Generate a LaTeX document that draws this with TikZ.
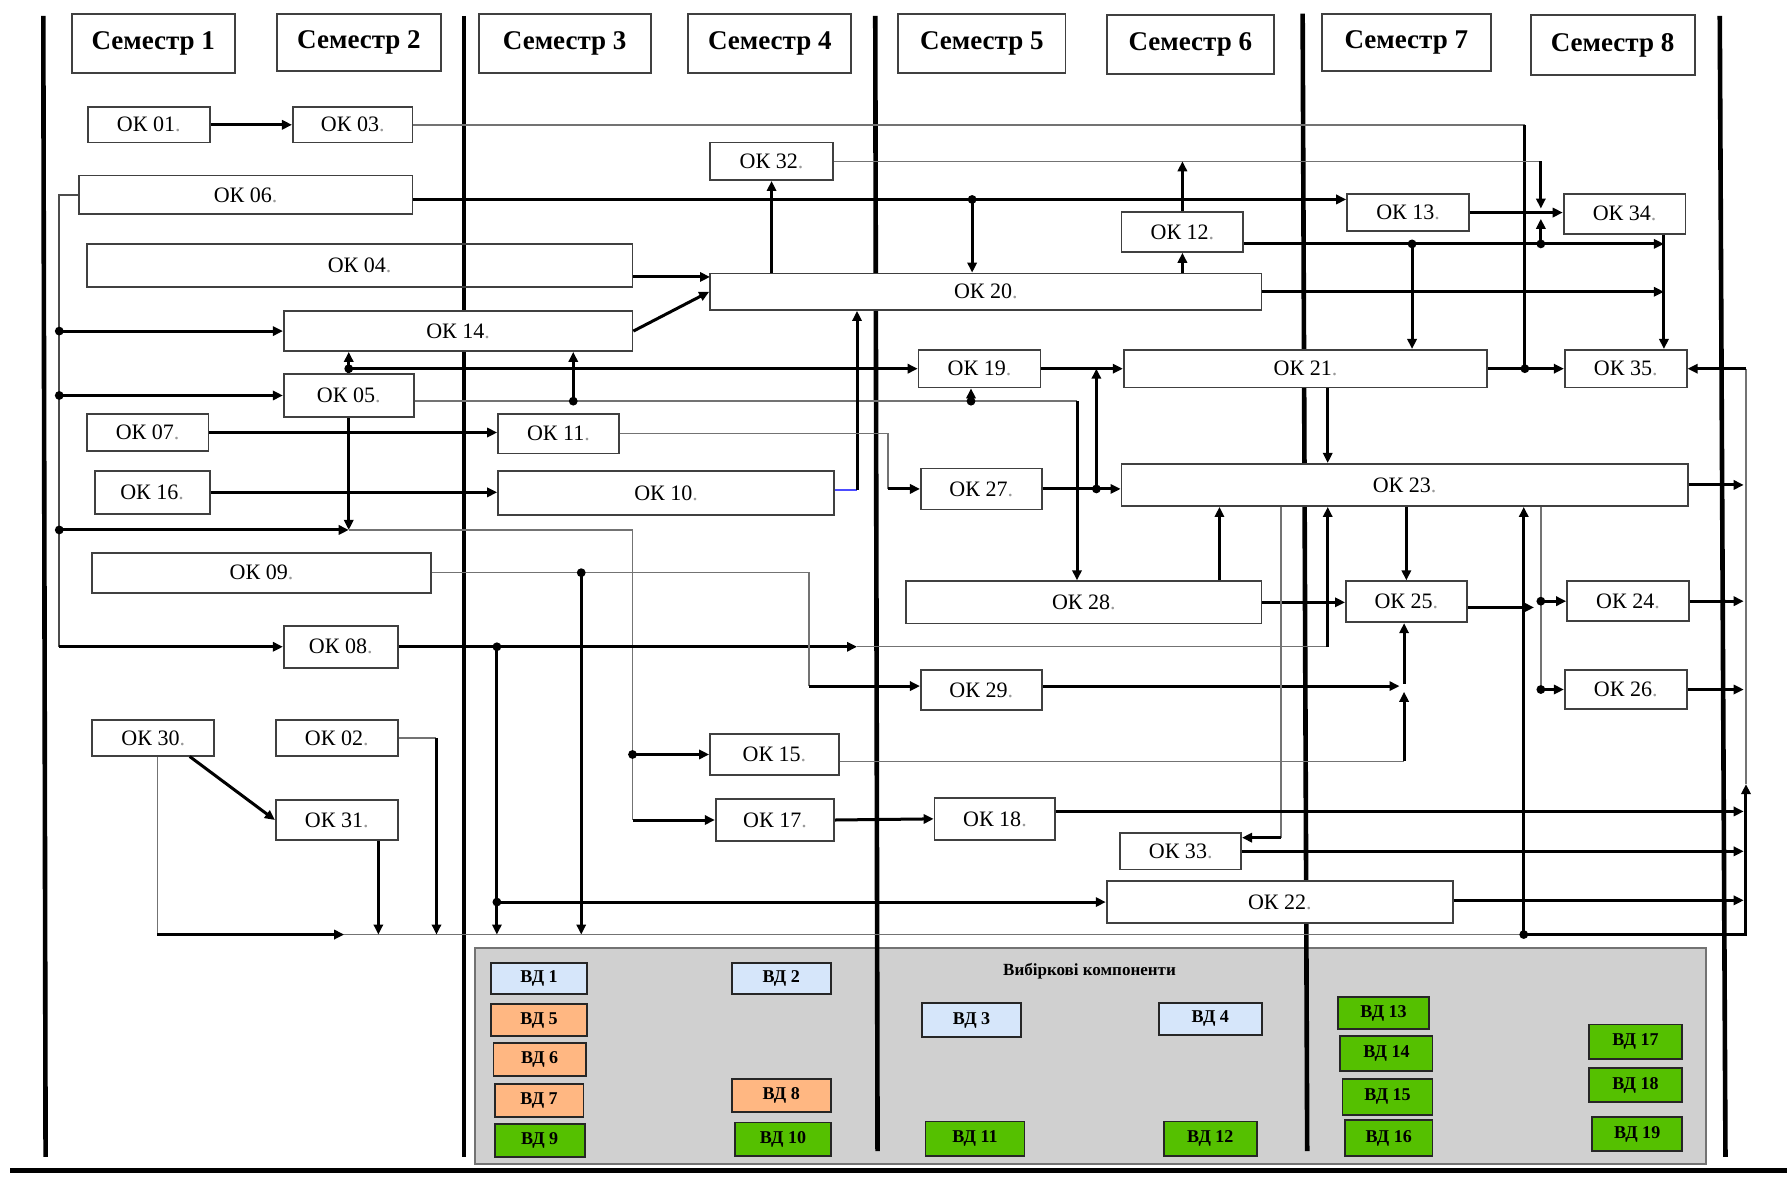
\documentclass[tikz,border=0pt]{standalone}
\usepackage{fontspec}
\setmainfont{Liberation Serif}
\usetikzlibrary{arrows.meta}
\definecolor{vd blue}{RGB}{214,230,250}
\definecolor{vd orange}{RGB}{255,183,130}
\definecolor{vd green}{RGB}{85,192,0}
\definecolor{panel grey}{RGB}{208,208,208}
\newcommand{\oklabel}[1]{ОК #1\textcolor{black!40}{.}}

\begin{document}
\begin{tikzpicture}[
	x=0.02cm, y=-0.02cm,
	sem box/.style={draw=black!75, line width=0.9pt, inner sep=0pt, font=\fontsize{13.5}{15}\selectfont\bfseries},
	ok box/.style={draw=black!75, line width=0.9pt, fill=white, inner sep=0pt, font=\fontsize{11}{12}\selectfont},
	vd box/.style={draw=black!85, line width=0.9pt, inner sep=0pt, font=\fontsize{9}{10}\selectfont\bfseries},
	sem line/.style={line width=2.3pt},
	bar/.style={line width=1.5pt},
	link/.style={line width=1.5pt, -{Triangle[length=5pt,width=4.6pt]}},
	faint/.style={line width=0.7pt, black!55},
]
	\useasboundingbox (0,0) rectangle (1568,1032);

	% elective panel
	\node[draw=black!55, line width=0.9pt, fill=panel grey, minimum width=21.6cm, minimum height=3.78cm] (panel) at (957,926.5) {};
	\node[font=\fontsize{8.5}{10}\selectfont\bfseries] (panel title) at (956,852) {Вибіркові компоненти};

	% semester borders
	\draw[sem line] (38,14) -- (40,1015);
	\draw[sem line] (407,14) -- (407,1015);
	\draw[sem line] (768,14) -- (770,1010);
	\draw[sem line] (1143,12) -- (1147,1010);
	\draw[sem line] (1509,14) -- (1514,1015);
	\draw[line width=0.1cm] (9,1027) -- (1568,1027);

	% semesters
	\node[sem box, minimum width=2.86cm, minimum height=1.04cm] (sem1) at (134.5,38) {Семестр 1};
	\node[sem box, minimum width=2.88cm, minimum height=1.00cm] (sem2) at (315,37) {Семестр 2};
	\node[sem box, minimum width=3.02cm, minimum height=1.04cm] (sem3) at (495.5,38) {Семестр 3};
	\node[sem box, minimum width=2.86cm, minimum height=1.04cm] (sem4) at (675.5,38) {Семестр 4};
	\node[sem box, minimum width=2.94cm, minimum height=1.04cm] (sem5) at (861.5,38) {Семестр 5};
	\node[sem box, minimum width=2.94cm, minimum height=1.04cm] (sem6) at (1044.5,39) {Семестр 6};
	\node[sem box, minimum width=2.96cm, minimum height=1.00cm] (sem7) at (1234,37) {Семестр 7};
	\node[sem box, minimum width=2.88cm, minimum height=1.06cm] (sem8) at (1415,39.5) {Семестр 8};

	% compulsory components
	\node[ok box, minimum width=2.14cm, minimum height=0.62cm] (ok01) at (130.5,109.5) {\oklabel{01}};
	\node[ok box, minimum width=2.10cm, minimum height=0.62cm] (ok03) at (309.5,109.5) {\oklabel{03}};
	\node[ok box, minimum width=2.16cm, minimum height=0.66cm] (ok32) at (677,141.5) {\oklabel{32}};
	\node[ok box, minimum width=5.86cm, minimum height=0.68cm] (ok06) at (215.5,171) {\oklabel{06}};
	\node[ok box, minimum width=2.14cm, minimum height=0.66cm] (ok13) at (1235.5,186.5) {\oklabel{13}};
	\node[ok box, minimum width=2.14cm, minimum height=0.70cm] (ok34) at (1425.5,187.5) {\oklabel{34}};
	\node[ok box, minimum width=2.14cm, minimum height=0.70cm] (ok12) at (1037.5,203.5) {\oklabel{12}};
	\node[ok box, fill=none, minimum width=9.58cm, minimum height=0.76cm] (ok04) at (315.5,233) {\oklabel{04}};
	\node[ok box, minimum width=9.68cm, minimum height=0.64cm] (ok20) at (865,256) {\oklabel{20}};
	\node[ok box, minimum width=6.12cm, minimum height=0.70cm] (ok14) at (402,290.5) {\oklabel{14}};
	\node[ok box, minimum width=2.14cm, minimum height=0.66cm] (ok19) at (859.5,323.5) {\oklabel{19}};
	\node[ok box, minimum width=6.38cm, minimum height=0.66cm] (ok21) at (1145.5,323.5) {\oklabel{21}};
	\node[ok box, minimum width=2.14cm, minimum height=0.66cm] (ok35) at (1426.5,323.5) {\oklabel{35}};
	\node[ok box, minimum width=2.28cm, minimum height=0.76cm] (ok05) at (306,347) {\oklabel{05}};
	\node[ok box, minimum width=2.14cm, minimum height=0.66cm] (ok07) at (129.5,379.5) {\oklabel{07}};
	\node[ok box, minimum width=2.12cm, minimum height=0.70cm] (ok11) at (490,380.5) {\oklabel{11}};
	\node[ok box, minimum width=2.02cm, minimum height=0.76cm] (ok16) at (133.5,432) {\oklabel{16}};
	\node[ok box, minimum width=5.90cm, minimum height=0.78cm] (ok10) at (584.5,432.5) {\oklabel{10}};
	\node[ok box, minimum width=2.12cm, minimum height=0.72cm] (ok27) at (861,429) {\oklabel{27}};
	\node[ok box, minimum width=9.94cm, minimum height=0.74cm] (ok23) at (1232.5,425.5) {\oklabel{23}};
	\node[ok box, minimum width=5.94cm, minimum height=0.70cm] (ok09) at (229.5,502.5) {\oklabel{09}};
	\node[ok box, minimum width=6.24cm, minimum height=0.74cm] (ok28) at (951,528.5) {\oklabel{28}};
	\node[ok box, minimum width=2.12cm, minimum height=0.72cm] (ok25) at (1234,528) {\oklabel{25}};
	\node[ok box, minimum width=2.14cm, minimum height=0.70cm] (ok24) at (1428.5,527.5) {\oklabel{24}};
	\node[ok box, minimum width=2.00cm, minimum height=0.74cm] (ok08) at (299,567.5) {\oklabel{08}};
	\node[ok box, minimum width=2.12cm, minimum height=0.70cm] (ok29) at (861,605.5) {\oklabel{29}};
	\node[ok box, minimum width=2.14cm, minimum height=0.68cm] (ok26) at (1426.5,605) {\oklabel{26}};
	\node[ok box, minimum width=2.14cm, minimum height=0.62cm] (ok30) at (134.5,647.5) {\oklabel{30}};
	\node[ok box, minimum width=2.14cm, minimum height=0.62cm] (ok02) at (295.5,647.5) {\oklabel{02}};
	\node[ok box, minimum width=2.26cm, minimum height=0.72cm] (ok15) at (679.5,662) {\oklabel{15}};
	\node[ok box, minimum width=2.14cm, minimum height=0.70cm] (ok31) at (295.5,719.5) {\oklabel{31}};
	\node[ok box, minimum width=2.08cm, minimum height=0.74cm] (ok17) at (680,719.5) {\oklabel{17}};
	\node[ok box, minimum width=2.12cm, minimum height=0.74cm] (ok18) at (873,718.5) {\oklabel{18}};
	\node[ok box, minimum width=2.12cm, minimum height=0.64cm] (ok33) at (1036,747) {\oklabel{33}};
	\node[ok box, minimum width=6.08cm, minimum height=0.74cm] (ok22) at (1123,791.5) {\oklabel{22}};

	% electives
	\node[vd box, fill=vd blue, minimum width=1.68cm, minimum height=0.54cm] (vd1) at (473,858.5) {ВД 1};
	\node[vd box, fill=vd blue, minimum width=1.74cm, minimum height=0.54cm] (vd2) at (685.5,858.5) {ВД 2};
	\node[vd box, fill=vd orange, minimum width=1.68cm, minimum height=0.56cm] (vd5) at (473,895) {ВД 5};
	\node[vd box, fill=vd orange, minimum width=1.62cm, minimum height=0.58cm] (vd6) at (473.5,929.5) {ВД 6};
	\node[vd box, fill=vd orange, minimum width=1.56cm, minimum height=0.58cm] (vd7) at (473,965.5) {ВД 7};
	\node[vd box, fill=vd orange, minimum width=1.74cm, minimum height=0.58cm] (vd8) at (685.5,961.5) {ВД 8};
	\node[vd box, fill=vd green, minimum width=1.58cm, minimum height=0.58cm] (vd9) at (473.5,1000.5) {ВД 9};
	\node[vd box, fill=vd green, minimum width=1.68cm, minimum height=0.58cm] (vd10) at (687,999.5) {ВД 10};
	\node[vd box, fill=vd blue, minimum width=1.74cm, minimum height=0.60cm] (vd3) at (852.5,895) {ВД 3};
	\node[vd box, fill=vd blue, minimum width=1.80cm, minimum height=0.56cm] (vd4) at (1062,894) {ВД 4};
	\node[vd box, fill=vd green, minimum width=1.74cm, minimum height=0.60cm] (vd11) at (855.5,999) {ВД 11};
	\node[vd box, fill=vd green, minimum width=1.64cm, minimum height=0.60cm] (vd12) at (1062,999) {ВД 12};
	\node[vd box, fill=vd green, minimum width=1.60cm, minimum height=0.56cm] (vd13) at (1214,889) {ВД 13};
	\node[vd box, fill=vd green, minimum width=1.62cm, minimum height=0.62cm] (vd14) at (1216.5,924.5) {ВД 14};
	\node[vd box, fill=vd green, minimum width=1.58cm, minimum height=0.62cm] (vd15) at (1217.5,962.5) {ВД 15};
	\node[vd box, fill=vd green, minimum width=1.54cm, minimum height=0.62cm] (vd16) at (1218.5,998.5) {ВД 16};
	\node[vd box, fill=vd green, minimum width=1.64cm, minimum height=0.60cm] (vd17) at (1435,914) {ВД 17};
	\node[vd box, fill=vd green, minimum width=1.64cm, minimum height=0.60cm] (vd18) at (1435,952) {ВД 18};
	\node[vd box, fill=vd green, minimum width=1.58cm, minimum height=0.60cm] (vd19) at (1436.5,995) {ВД 19};

	% junctions
	\coordinate (lb14) at (52,290.5);
	\coordinate (lb05) at (52,347);
	\coordinate (lb465) at (52,465);
	\coordinate (lb08) at (52,567.5);
	\coordinate (c465) at (306,465);
	\coordinate (k465) at (555,465);
	\coordinate (j15) at (555,662);
	\coordinate (j17) at (555,719.5);
	\coordinate (j324) at (306,323.5);
	\coordinate (j503) at (503,352);
	\coordinate (j852) at (852,352);
	\coordinate (k945) at (945,352);
	\coordinate (in20) at (623,243);
	\coordinate (j853) at (853,175);
	\coordinate (k752) at (752,430);
	\coordinate (k779) at (779,429);
	\coordinate (j962) at (962,429);
	\coordinate (k1338) at (1338,109.5);
	\coordinate (j1338) at (1338,323.5);
	\coordinate (k1352) at (1352,141.5);
	\coordinate (m1352a) at (1352,183);
	\coordinate (m1352b) at (1352,192);
	\coordinate (j1352) at (1352,214);
	\coordinate (j1239) at (1239,214);
	\coordinate (a1460) at (1460,214);
	\coordinate (b1460) at (1460,256);
	\coordinate (k752b) at (752,567.5);
	\coordinate (j436) at (436,567.5);
	\coordinate (j1165) at (1165,567.5);
	\coordinate (j789) at (436,791.5);
	\coordinate (b436) at (436,820);
	\coordinate (j510) at (510,502.5);
	\coordinate (b510) at (510,820);
	\coordinate (k710) at (710,602);
	\coordinate (a1228) at (1228,602);
	\coordinate (k1232) at (1232,668);
	\coordinate (m1232) at (1232,607);
	\coordinate (j1232) at (1232,600);
	\coordinate (x1070) at (1070,510);
	\coordinate (a1346) at (1346,533);
	\coordinate (j24) at (1352,527.5);
	\coordinate (j26) at (1352,605);
	\coordinate (k1124) at (1124,735);
	\coordinate (j1337) at (1337,820);
	\coordinate (rbtop) at (1532,323.5);
	\coordinate (rbup) at (1532,688);
	\coordinate (rbbot) at (1532,820);
	\coordinate (rb) at (1530,0);
	\coordinate (r18) at (1530,712);
	\coordinate (r22) at (1530,790);
	\coordinate (b138) at (138,820);
	\coordinate (b302) at (302,820);
	\coordinate (b332) at (332,820);
	\coordinate (k383) at (383,647.5);
	\coordinate (b383) at (383,820);

	% left bus
	\draw[faint, line width=0.9pt, black!70] (ok06.west) -| (lb08);
	\draw[link] (lb14) -- (ok14.west);
	\draw[link] (lb05) -- (ok05.west);
	\draw[link] (lb465) -- (c465);
	\draw[link] (lb08) -- (ok08.west);
	\draw[link] (ok05.south) -- (c465);
	\draw[faint] (c465) -- (k465) -- (j17);
	\draw[link] (j15) -- (ok15.west);
	\draw[link] (j17) -- (ok17.west);

	% OK 05 upwards
	\draw[bar] (ok05.north) -- (j324);
	\draw[link] (j324) -- (j324 |- ok14.south);
	\draw[link] (j324) -- (ok19.west);
	\draw[faint] (ok05.east |- j503) -- (k945);
	\draw[link] (k945) -- (k945 |- ok28.north);
	\draw[link] (j503) -- (j503 |- ok14.south);
	\draw[link] (j852) -- (j852 |- ok19.south);

	% into OK 20
	\draw[link] (ok04.east |- in20) -- (in20);
	\draw[link] (ok14.east) -- (ok20.west);
	\draw[link] (ok20.north -| ok32.south) -- (ok32.south);
	\draw[link] (ok06.east |- j853) -- (j853 -| ok13.west);
	\draw[link] (j853) -- (j853 |- ok20.north);
	\draw[faint, blue!70] (ok10.east |- k752) -- (k752);
	\draw[link] (k752) -- (k752 |- ok20.south);

	% top rows
	\draw[link] (ok01.east) -- (ok03.west);
	\draw[faint] (ok03.east) -- (k1338);
	\draw[bar] (k1338) -- (j1338);
	\draw[faint] (ok32.east) -- (k1352);
	\draw[link] (k1352) -- (m1352a);
	\draw[link] (j1352) -- (m1352b);
	\draw[link] (ok12.north) -- (ok12.north |- k1352);
	\draw[link] (ok20.north -| ok12.south) -- (ok12.south);
	\draw[link] (ok12.east |- a1460) -- (a1460);
	\draw[link] (ok20.east) -- (b1460);
	\draw[link] (ok34.south -| a1460) -- (ok35.north -| a1460);
	\draw[link] (ok13.east) -- (ok13.east -| ok34.west);
	\draw[link] (j1239) -- (j1239 |- ok21.north);

	% middle rows
	\draw[link] (ok07.east) -- (ok07.east -| ok11.west);
	\draw[link] (ok16.east) -- (ok16.east -| ok10.west);
	\draw[faint] (ok11.east) -| (k779);
	\draw[link] (k779) -- (ok27.west);
	\draw[link] (ok27.east) -- (ok27.east -| ok23.west);
	\draw[link] (j962) -- (j962 |- ok19.east);
	\draw[link] (ok19.east) -- (ok21.west);
	\draw[link] (ok21.east) -- (ok35.west);
	\draw[link] (ok21.south -| j1165) -- (ok23.north -| j1165);

	% OK 08 and OK 09
	\draw[link] (ok08.east) -- (k752b);
	\draw[faint] (k752b) -- (j1165);
	\draw[link] (j1165) -- (j1165 |- ok23.south);
	\draw[link] (j436) -- (b436);
	\draw[link] (j789) -- (j789 -| ok22.west);
	\draw[faint] (ok09.east) -| (k710);
	\draw[link] (k710) -- (k710 -| ok29.west);
	\draw[link] (j510) -- (b510);
	\draw[link] (ok29.east |- a1228) -- (a1228);
	\draw[faint] (ok15.east |- k1232) -- (k1232);
	\draw[link] (k1232) -- (m1232);
	\draw[link] (j1232) -- (j1232 |- ok25.south);

	% around OK 23
	\draw[link] (ok23.south -| ok25.north) -- (ok25.north);
	\draw[link] (ok28.north -| x1070) -- (ok23.south -| x1070);
	\draw[link] (ok28.east) -- (ok28.east -| ok25.west);
	\draw[link] (ok25.east |- a1346) -- (a1346);
	\draw[faint] (j26 |- ok23.south) -- (j26);
	\draw[link] (j24) -- (ok24.west);
	\draw[link] (j26) -- (ok26.west);
	\draw[faint] (k1124 |- ok23.south) -- (k1124);
	\draw[link] (k1124) -- (k1124 -| ok33.east);
	\draw[link] (j1337) -- (j1337 |- ok23.south);

	% right bus
	\draw[faint] (rbup) -- (rbtop);
	\draw[link] (rbtop) -- (ok35.east);
	\draw[link] (j1337) -- (rbbot) -- (rbup);
	\draw[link] (ok23.east) -- (ok23.east -| rb);
	\draw[link] (ok24.east) -- (ok24.east -| rb);
	\draw[link] (ok26.east) -- (ok26.east -| rb);
	\draw[link] (ok18.east |- r18) -- (r18);
	\draw[link] (ok33.east) -- (ok33.east -| rb);
	\draw[link] (ok22.east |- r22) -- (r22);

	% bottom bus
	\draw[faint] (ok30.south -| b138) -- (b138);
	\draw[link] (b138) -- (b302);
	\draw[faint] (b302) -- (j1337);
	\draw[link] (ok30.-27) -- (ok31.west);
	\draw[link] (ok31.south -| b332) -- (b332);
	\draw[faint] (ok02.east) -- (k383);
	\draw[link] (k383) -- (b383);
	\draw[link] (ok17.east) -- (ok18.west);

	\foreach \p in {lb14, lb05, lb465, j15, j324, j503, j852, j853, j962, j1338, j1352, j1239, j436, j789, j510, j24, j26, j1337}
		\fill (\p) circle (2.2pt);
\end{tikzpicture}
\end{document}
